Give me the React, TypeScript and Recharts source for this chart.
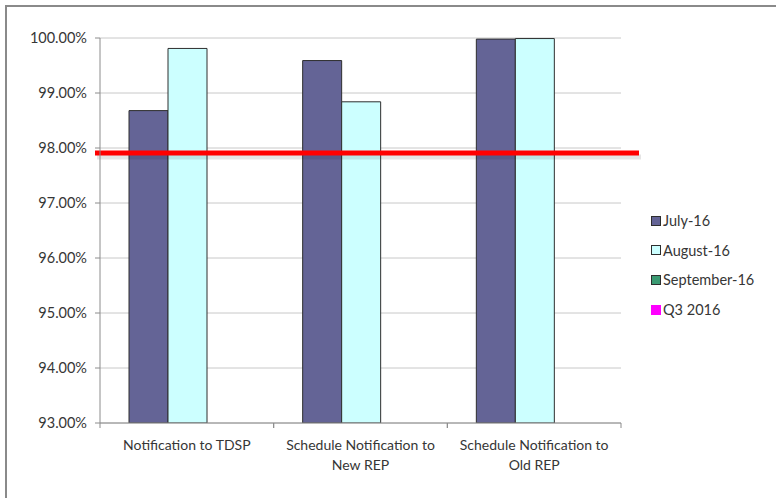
import React from "react";
import { BarChart, Bar, XAxis, YAxis, CartesianGrid, ReferenceLine, Text } from "recharts";

const categories = [
  "Notification to TDSP",
  "Schedule Notification to New REP",
  "Schedule Notification to Old REP",
];
const july16 = [98.68, 99.59, 99.98];
const august16 = [99.81, 98.84, 99.99];
const september16: (number | null)[] = [null, null, null];
const targetValue = 97.91;
const yTicks = [93, 94, 95, 96, 97, 98, 99, 100];
const legendLabels = ["July-16", "August-16", "September-16", "Q3 2016"];
const legendColors = ["#646496", "#ccffff", "#3a9a72", "#ff00ff"];

const data = categories.map((c, i) => ({
  name: c,
  july: july16[i],
  august: august16[i],
  september: september16[i],
}));

const FONT = "Lato, 'Open Sans', sans-serif";

const XTick = (props: any) => {
  const { x, y, payload } = props;
  const half = payload?.offset ?? 0;
  return (
    <g>
      <line x1={x - half} x2={x - half} y1={y} y2={y + 5} stroke="#8c8c8c" strokeWidth={1} />
      <line x1={x + half} x2={x + half} y1={y} y2={y + 5} stroke="#8c8c8c" strokeWidth={1} />
      <Text
        x={x}
        y={y + 17}
        width={165}
        lineHeight={20}
        textAnchor="middle"
        verticalAnchor="start"
        fontSize={14}
        fontFamily={FONT}
        fill="#363636"
      >
        {payload.value}
      </Text>
    </g>
  );
};

const RedLine = (props: any) => {
  const { x1, y1, x2, y2 } = props;
  if (x1 == null) return null;
  return (
    <g>
      <line x1={x1 - 3} x2={x2 + 20} y1={y1 + 4} y2={y2 + 4} stroke="#000" strokeOpacity={0.1} strokeWidth={5} />
      <line x1={x1 - 5} x2={x2 + 18} y1={y1} y2={y2} stroke="#ff0000" strokeWidth={5} />
    </g>
  );
};

export default function App() {
  return (
    <div style={{ position: "absolute", left: 0, top: 0, width: 776, height: 498, background: "#fff", overflow: "hidden" }}>
      <div
        style={{
          position: "absolute",
          left: 5,
          top: 5,
          width: 800,
          height: 600,
          borderTop: "2px solid #8a8a8a",
          borderLeft: "2px solid #8a8a8a",
        }}
      />
      <div style={{ position: "absolute", left: 0, top: 0 }}>
        <BarChart
          width={776}
          height={498}
          data={data}
          margin={{ top: 38, right: 155, bottom: 0, left: 0 }}
          barCategoryGap="16.7%"
          barGap={0}
        >
          <CartesianGrid horizontal vertical={false} stroke="#c8c8c8" strokeWidth={1} />
          <YAxis
            width={100}
            domain={[93, 100]}
            ticks={yTicks}
            interval={0}
            allowDataOverflow
            tickFormatter={(v: number) => v.toFixed(2) + "%"}
            tick={{ fontSize: 14.5, fontFamily: FONT, fill: "#363636" }}
            axisLine={{ stroke: "#8c8c8c" }}
            tickLine={{ stroke: "#8c8c8c" }}
            tickSize={5}
            tickMargin={8}
          />
          <XAxis
            dataKey="name"
            height={75}
            interval={0}
            tickLine={false}
            tickSize={0}
            tickMargin={0}
            axisLine={{ stroke: "#8c8c8c" }}
            tick={<XTick />}
          />
          <Bar dataKey="july" fill={legendColors[0]} stroke="#2e2e2e" strokeWidth={1} isAnimationActive={false} />
          <Bar dataKey="august" fill={legendColors[1]} stroke="#2e2e2e" strokeWidth={1} isAnimationActive={false} />
          <Bar dataKey="september" fill={legendColors[2]} stroke="#2e2e2e" strokeWidth={1} isAnimationActive={false} />
          <ReferenceLine y={targetValue} shape={<RedLine />} ifOverflow="visible" />
        </BarChart>
      </div>
      <div style={{ position: "absolute", left: 651, top: 206, fontFamily: FONT, fontSize: 14.5, color: "#363636" }}>
        {legendLabels.map((l, i) => (
          <div key={l} style={{ display: "flex", alignItems: "center", height: 29.6 }}>
            <span
              style={{
                display: "inline-block",
                width: 8,
                height: 8,
                background: legendColors[i],
                border: i < 3 ? "1px solid #2e2e2e" : "1px solid " + legendColors[i],
                marginRight: 2,
              }}
            />
            <span>{l}</span>
          </div>
        ))}
      </div>
    </div>
  );
}
